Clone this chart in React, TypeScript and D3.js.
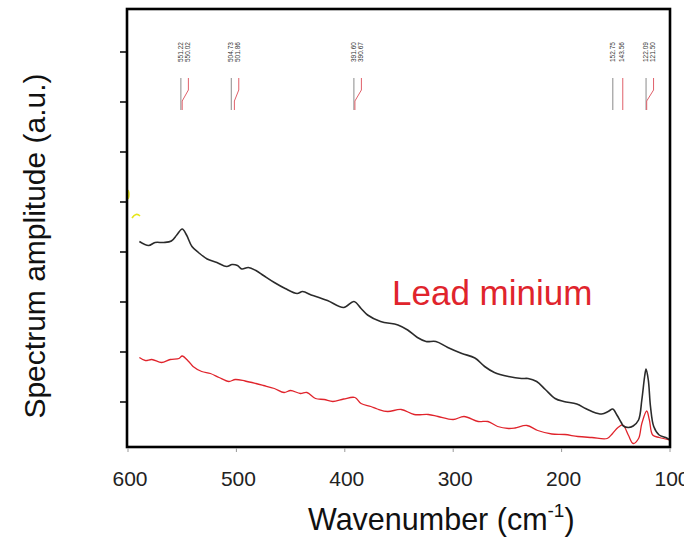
import React from "react";
import * as d3 from "d3";

// Black spectrum (wavenumber cm-1, amplitude a.u.)
const blackWn = [589.5, 581, 575, 567, 560, 555, 550, 546, 541, 535, 527, 518, 509, 504, 499, 495, 489, 482, 475, 465, 455, 444, 439, 431, 428, 416, 401, 391.6, 385, 379, 367, 351, 342, 333, 325, 316, 305, 292, 280, 271, 262, 249, 237, 231, 223, 215, 206, 198, 186, 178, 172, 163, 157, 152.75, 149, 145, 143, 138.5, 134, 129, 126, 123.4, 122.09, 120, 118, 115, 110, 104, 100];
const blackAmp = [4.21, 4.13, 4.19, 4.19, 4.22, 4.34, 4.46, 4.34, 4.11, 3.99, 3.86, 3.79, 3.71, 3.75, 3.73, 3.66, 3.69, 3.63, 3.53, 3.39, 3.27, 3.17, 3.21, 3.14, 3.12, 3.03, 2.89, 3.01, 2.87, 2.74, 2.61, 2.54, 2.44, 2.29, 2.21, 2.21, 2.09, 1.97, 1.88, 1.71, 1.59, 1.51, 1.47, 1.47, 1.41, 1.25, 1.07, 1.01, 0.96, 0.87, 0.81, 0.76, 0.81, 0.86, 0.74, 0.59, 0.52, 0.49, 0.52, 0.64, 1.04, 1.51, 1.66, 1.44, 0.91, 0.51, 0.34, 0.29, 0.24];

// Red spectrum
const redWn = [589.5, 584, 578, 569, 561, 553, 550.02, 544, 540, 532, 524, 516, 507, 501, 492, 482, 475, 465, 456, 450, 441, 435, 427, 419, 411, 401, 390.67, 385, 376, 370, 360.5, 348, 336, 323, 314, 300, 290, 277, 268, 259, 249, 243, 232, 222, 209, 197, 185, 172, 158, 153, 148, 143.56, 138.5, 134, 129, 126, 121.5, 119, 116, 110, 100];
const redAmp = [1.89, 1.83, 1.85, 1.79, 1.85, 1.87, 1.92, 1.81, 1.71, 1.61, 1.57, 1.49, 1.41, 1.45, 1.42, 1.37, 1.33, 1.27, 1.19, 1.23, 1.17, 1.19, 1.07, 1.05, 1.01, 1.06, 1.09, 0.97, 0.91, 0.86, 0.81, 0.85, 0.75, 0.75, 0.71, 0.65, 0.71, 0.61, 0.61, 0.51, 0.47, 0.48, 0.53, 0.43, 0.36, 0.35, 0.31, 0.29, 0.27, 0.37, 0.49, 0.54, 0.34, 0.17, 0.27, 0.57, 0.82, 0.64, 0.34, 0.29, 0.24];

// Peak annotations
const blackPeaks = [551.22, 504.73, 391.6, 152.75, 122.09];
const redPeaks = [550.02, 501.86, 390.67, 143.56, 121.5];

const xTicks = [600, 500, 400, 300, 200, 100];
const yTicks = [1, 2, 3, 4, 5, 6, 7, 8];

const W = 684;
const H = 540;
const L = 127;
const R = 670;
const T = 9;
const B = 447;

export default function App() {
  const x = d3.scaleLinear().domain([600, 100]).range([128, 670]);
  const y = d3.scaleLinear().domain([0.1, 8.86]).range([B, T]);

  const line = d3
    .line<[number, number]>()
    .x((d) => x(d[0]))
    .y((d) => y(d[1]))
    .curve(d3.curveCatmullRom.alpha(0.5));

  const blackPts: [number, number][] = blackWn.map((w, i) => [w, blackAmp[i]]);
  const redPts: [number, number][] = redWn.map((w, i) => [w, redAmp[i]]);

  const font = "'Liberation Sans', Arial, sans-serif";

  return (
    <svg width={W} height={H} style={{ position: "absolute", left: 0, top: 0, background: "#fff" }}>
      <rect x={0} y={0} width={W} height={H} fill="#fff" />

      {/* curves */}
      <path d={line(redPts) || ""} fill="none" stroke="#e0242c" strokeWidth={1.3} />
      <path d={line(blackPts) || ""} fill="none" stroke="#2b2b2b" strokeWidth={1.6} />

      {/* peak markers */}
      {blackPeaks.map((bp, i) => {
        const bx = x(bp);
        const rx = x(redPeaks[i]);
        const lx = Math.max(rx, bx + 7.5);
        return (
          <g key={i}>
            <line x1={bx} x2={bx} y1={78} y2={110} stroke="#8a8a8a" strokeWidth={1} />
            <path
              d={`M${lx},78 L${lx},90 L${rx},101 L${rx},110`}
              fill="none"
              stroke="#e0606a"
              strokeWidth={1}
            />
            <text
              transform={`translate(${bx},62) rotate(-90)`}
              fontSize={6.5}
              fontFamily={font}
              fill="#333"
              dominantBaseline="middle"
            >
              {bp.toFixed(2)}
            </text>
            <text
              transform={`translate(${lx},62) rotate(-90)`}
              fontSize={6.5}
              fontFamily={font}
              fill="#333"
              dominantBaseline="middle"
            >
              {redPeaks[i].toFixed(2)}
            </text>
          </g>
        );
      })}

      {/* yellow stray marks */}
      <path d="M128,190 q2,4 0,9" fill="none" stroke="#e6e619" strokeWidth={1.6} />
      <path d="M132,218 q4,-6 8,-2" fill="none" stroke="#e6e619" strokeWidth={1.6} />

      {/* frame */}
      <rect x={L} y={T} width={R - L} height={B - T} fill="none" stroke="#000" strokeWidth={2.6} />

      {/* left ticks */}
      {yTicks.map((t) => (
        <line key={t} x1={L - 7} x2={L} y1={y(t)} y2={y(t)} stroke="#000" strokeWidth={1.5} />
      ))}

      {/* bottom ticks and labels */}
      {xTicks.map((t) => (
        <g key={t}>
          <line x1={x(t)} x2={x(t)} y1={B + 1} y2={B + 5} stroke="#999" strokeWidth={1} />
          <text x={x(t) + 2} y={486} fontSize={21} fontFamily={font} fill="#222" textAnchor="middle">
            {t}
          </text>
        </g>
      ))}

      {/* axis titles */}
      <text x={308} y={530} fontSize={30.5} fontFamily={font} fill="#111">
        Wavenumber (cm
        <tspan fontSize={19} dy={-13}>-1</tspan>
        <tspan dy={13}>)</tspan>
      </text>
      <text
        transform={`translate(45,246) rotate(-90)`}
        fontSize={30}
        fontFamily={font}
        fill="#111"
        textAnchor="middle"
      >
        Spectrum amplitude (a.u.)
      </text>

      <text x={392} y={305} fontSize={35} fontFamily={font} fill="#e0242c">
        Lead minium
      </text>
    </svg>
  );
}
